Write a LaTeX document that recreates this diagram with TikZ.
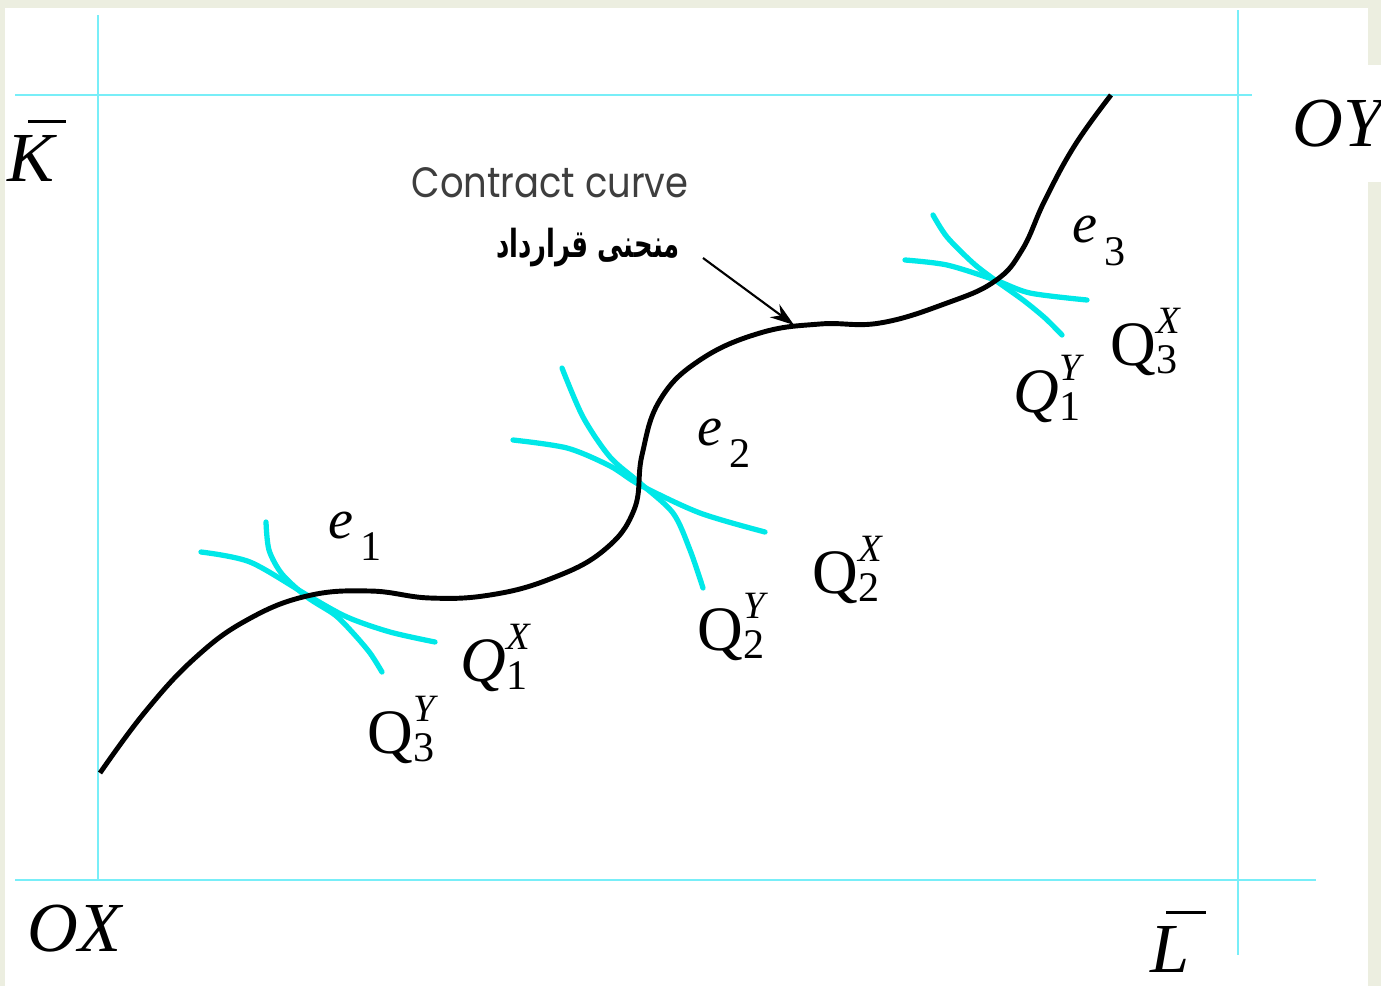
\documentclass[tikz,border=0pt]{standalone}
\usepackage{fontspec}
\setmainfont{Liberation Serif}
\newfontfamily\arabicfont[Script=Arabic]{DejaVu Sans}
\newfontfamily\gothicfont{Poppins}
\TeXXeTstate=1
\usetikzlibrary{arrows.meta,positioning}
\definecolor{ecCyan}{RGB}{0,232,232}
\definecolor{ecFrame}{RGB}{120,238,248}
\definecolor{ecPale}{RGB}{236,238,224}
\definecolor{ecGray}{RGB}{62,62,62}
\newcommand{\qlab}[3]{#1\rlap{\raisebox{0.5em}{\fontsize{11}{11}\selectfont\itshape #2}}%
  \raisebox{-0.13em}{\fontsize{12}{12}\selectfont #3}}
\newcommand{\elab}[1]{\textit{e}\hspace{2pt}\raisebox{-0.4em}{\fontsize{12}{12}\selectfont #1}}
\newcommand{\barlet}[4]{\rlap{\hspace{#2}\rule[#3]{#4}{0.05em}}\textit{#1}}
\tikzset{
    frameline/.style={draw=ecFrame,line width=0.8pt},
    isoq/.style={draw=ecCyan,line width=1.5pt,line cap=round},
    ccurve/.style={draw=black,line width=1.4pt},
    qlabel/.style={font=\fontsize{18}{18}\selectfont,inner sep=0pt,anchor=base west},
    elabel/.style={font=\fontsize{16}{16}\selectfont,inner sep=0pt},
    corner/.style={font=\fontsize{20}{20}\selectfont\itshape,inner sep=0pt,anchor=base west},
    pointer/.style={-{Stealth[length=2.4mm,width=1.6mm]},line width=0.6pt,draw=black}
}
\begin{document}
\begin{tikzpicture}[x=0.1mm,y=-0.1mm]

% background
\fill[ecPale] (0,0) rectangle (1381,986);
\fill[white] (5,8) rectangle (1368,986);
\fill[white] (1368,65) rectangle (1381,182);
\useasboundingbox (0,0) rectangle (1381,986);

% box edges
\draw[frameline] (98,15) -- (98,880);
\draw[frameline] (1238,10) -- (1238,955);
\draw[frameline] (15,95) -- (1252,95);
\draw[frameline] (15,880) -- (1316,880);

% isoquants at the tangency points
\draw[isoq] plot[smooth] coordinates {(201,552) (250,562) (307,595) (347,617) (390,632) (435,642)};
\draw[isoq] plot[smooth] coordinates {(266,522) (269,550) (282,574) (307,597) (335,615) (353,633) (370,653) (382,672)};
\draw[isoq] plot[smooth] coordinates {(513,440) (567,448) (610,466) (640,485) (700,513) (765,532)};
\draw[isoq] plot[smooth] coordinates {(562,368) (583,417) (610,457) (640,483) (673,513) (690,550) (703,588)};
\draw[isoq] plot[smooth] coordinates {(905,260) (947,265) (995,280) (1030,293) (1087,300)};
\draw[isoq] plot[smooth] coordinates {(933,215) (947,237) (973,263) (995,280) (1023,300) (1045,318) (1062,335)};

% contract curve
\draw[ccurve] plot[smooth,tension=0.7] coordinates {(100,773) (145,712) (195,658) (247,620) (307,596)
  (370,591) (430,598) (490,595) (550,579) (603,551) (634,510) (642,455) (660,400)
  (700,360) (760,333) (820,324) (880,323) (947,303) (995,281) (1022,250) (1045,200)
  (1075,145) (1111,95)};

% labels
\node[font=\gothicfont\fontsize{10.5}{10.5}\selectfont,text=ecGray,inner sep=0pt] (cclab) at (550,183) {\scalebox{1}[1.15]{Contract curve}};
\node[font=\arabicfont\bfseries\fontsize{11}{11}\selectfont,inner sep=0pt] (arlab) at (588,248) {\scalebox{0.67}[1]{\beginR منحنی قرارداد\endR}};
\coordinate (ptail) at (703,258);
\coordinate (ptip) at (794,325);
\draw[pointer] (ptail) -- (ptip);

\node[elabel] (e1) at (355,536) {\elab{1}};
\node[elabel] (e2) at (724,443) {\elab{2}};
\node[elabel] (e3) at (1099,241) {\elab{3}};

\node[qlabel] (q1x) at (460,681) {\qlab{\textit{Q}}{X}{1}};
\node[qlabel] (q3y) at (367,753) {\qlab{Q}{Y}{3}};
\node[qlabel] (q2y) at (697,650) {\qlab{Q}{Y}{2}};
\node[qlabel] (q2x) at (812,593) {\qlab{Q}{X}{2}};
\node[qlabel] (q3x) at (1110,365) {\qlab{Q}{X}{3}};
\node[qlabel] (q1y) at (1013,412) {\qlab{\textit{Q}}{Y}{1}};

\node[corner] (kbar) at (7,181) {\barlet{K}{0.29em}{0.82em}{0.54em}};
\node[corner] (lbar) at (1150,972) {\barlet{L}{0.22em}{0.82em}{0.56em}};
\node[corner] (oy) at (1292,146) {OY};
\node[corner] (ox) at (27,951) {OX};

\end{tikzpicture}
\end{document}
